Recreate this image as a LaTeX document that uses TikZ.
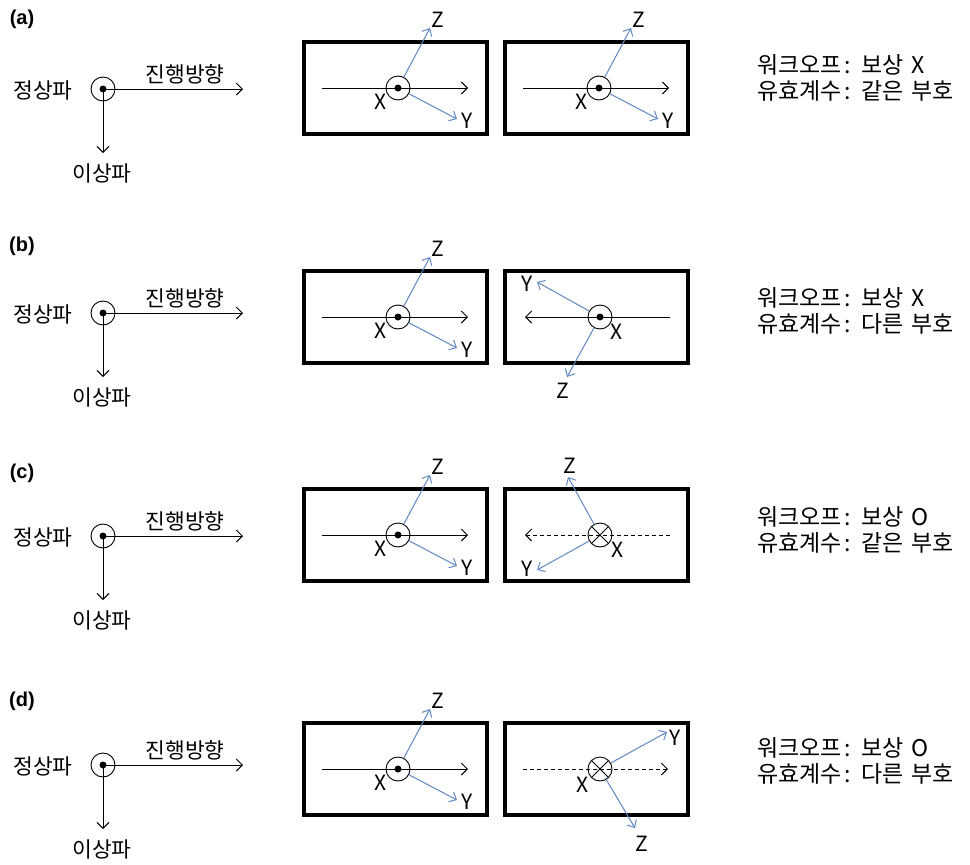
\documentclass[tikz,border=0pt]{standalone}
\usepackage{fontspec}
\setmainfont{Noto Sans CJK KR}[WordSpace=1.6]
\newfontfamily\lblfont{Liberation Sans}
\usetikzlibrary{arrows.meta}
\definecolor{axblue}{RGB}{95,135,195}
\tikzset{
 wbox/.style={draw, line width=3.5pt, minimum width=183pt, minimum height=92pt, inner sep=0pt},
 ring/.style={draw, circle, minimum size=24pt, inner sep=0pt, line width=0.9pt},
 dotc/.style={circle, fill, minimum size=7pt, inner sep=0pt},
 arr/.style={line width=0.9pt, -{Straight Barb[length=6pt,width=12pt]}},
 barr/.style={axblue, line width=1pt, -{Straight Barb[length=6pt,width=11pt]}},
 dash line/.style={dash pattern=on 4pt off 3pt},
 kor/.style={font=\fontsize{21.5}{24}\selectfont, inner sep=0pt},
 axl/.style={font=\fontsize{21}{24}\selectfont, inner sep=0pt},
 plbl/.style={font=\lblfont\bfseries\fontsize{20}{22}\selectfont, inner sep=0pt},
 rtxt/.style={font=\fontsize{23}{26}\selectfont, inner sep=0pt, anchor=west},
}
\newcommand\lpart[3]{%
 \node[plbl] (lab#1) at (22,#2) {(#1)};
 \node[ring] (s#1) at (103,#3) {};
 \node[dotc] (sd#1) at (103,#3) {};
 \coordinate (se#1) at (243,#3);
 \coordinate (ss#1) at (103,#3+64);
 \draw[arr] (sd#1.center) -- (se#1);
 \draw[arr] (sd#1.center) -- (ss#1);
 \node[kor] (ta#1) at (185,#3-15) {진행방향};
 \node[kor] (tb#1) at (43,#3+1) {정상파};
 \node[kor] (tc#1) at (102,#3+84) {이상파};
}
\newcommand\lbox[2]{%
 \node[wbox] (b#1) at (395.5,#2) {};
 \coordinate (bl#1) at (322,#2);
 \coordinate (br#1) at (468,#2);
 \draw[arr] (bl#1) -- (br#1);
 \node[ring] (c#1) at (398,#2) {};
 \node[dotc] (cd#1) at (398,#2) {};
 \coordinate (z#1) at (430,#2-60);
 \coordinate (y#1) at (457,#2+31);
 \draw[barr] (c#1) -- (z#1);
 \draw[barr] (c#1) -- (y#1);
 \node[axl] (zl#1) at (438,#2-68) {Z};
 \node[axl] (yl#1) at (467,#2+33) {Y};
 \node[axl] (xl#1) at (381,#2+14) {X};
}
\newcommand\rtext[4]{%
 \node[rtxt] (ra#1) at (757,#2) {워크오프\hspace{3pt}: 보상 #4};
 \node[rtxt] (rb#1) at (757,#2+26) {유효계수\hspace{3pt}: #3};
}
\begin{document}
\begin{tikzpicture}[x=1pt,y=-1pt]
\useasboundingbox (0,0) rectangle (970,865);
% ---------- (a)
\lpart{a}{19}{89}
\lbox{a}{88}
\node[wbox] (ra) at (596.5,88) {};
\coordinate (ral) at (523,88); \coordinate (rar) at (669,88);
\draw[arr] (ral) -- (rar);
\node[ring] (rca) at (599,88) {};
\node[dotc] (rcda) at (599,88) {};
\coordinate (rza) at (631,28); \coordinate (rya) at (658,119);
\draw[barr] (rca) -- (rza);
\draw[barr] (rca) -- (rya);
\node[axl] (rzla) at (639,20) {Z};
\node[axl] (ryla) at (668,121) {Y};
\node[axl] (rxla) at (582,102) {X};
\rtext{a}{65}{같은 부호}{X}
% ---------- (b)
\lpart{b}{246}{313}
\lbox{b}{317}
\node[wbox] (rb) at (596.5,317) {};
\coordinate (rbl) at (525,317); \coordinate (rbr) at (670,317);
\draw[arr] (rbr) -- (rbl);
\node[ring] (rcb) at (600,317) {};
\node[dotc] (rcdb) at (600,317) {};
\coordinate (ryb) at (537,282); \coordinate (rzb) at (567,377);
\draw[barr] (rcb) -- (ryb);
\draw[barr] (rcb) -- (rzb);
\node[axl] (rylb) at (527,284) {Y};
\node[axl] (rzlb) at (563,391) {Z};
\node[axl] (rxlb) at (617,332) {X};
\rtext{b}{298}{다른 부호}{X}
% ---------- (c)
\lpart{c}{473}{536}
\lbox{c}{535}
\node[wbox] (rc) at (596.5,535) {};
\coordinate (rcl) at (525,535); \coordinate (rcr) at (670,535);
\draw[arr,dash line] (rcr) -- (rcl);
\node[ring] (rcc) at (600,535) {};
\draw[line width=0.9pt] (rcc.north west) -- (rcc.south east) (rcc.north east) -- (rcc.south west);
\coordinate (rzc) at (568,477); \coordinate (ryc) at (537,570);
\draw[barr] (rcc) -- (rzc);
\draw[barr] (rcc) -- (ryc);
\node[axl] (rzlc) at (570,466) {Z};
\node[axl] (rylc) at (527,569) {Y};
\node[axl] (rxlc) at (618,550) {X};
\rtext{c}{517}{같은 부호}{O}
% ---------- (d)
\lpart{d}{701}{765}
\lbox{d}{769}
\node[wbox] (rd) at (596.5,769) {};
\coordinate (rdl) at (523,769); \coordinate (rdr) at (668,769);
\draw[arr,dash line] (rdl) -- (rdr);
\node[ring] (rcd) at (600,769) {};
\draw[line width=0.9pt] (rcd.north west) -- (rcd.south east) (rcd.north east) -- (rcd.south west);
\coordinate (ryd) at (667,732); \coordinate (rzd) at (635,828);
\draw[barr] (rcd) -- (ryd);
\draw[barr] (rcd) -- (rzd);
\node[axl] (ryld) at (675,738) {Y};
\node[axl] (rzld) at (642,844) {Z};
\node[axl] (rxld) at (583,785) {X};
\rtext{d}{748}{다른 부호}{O}
\end{tikzpicture}
\end{document}
